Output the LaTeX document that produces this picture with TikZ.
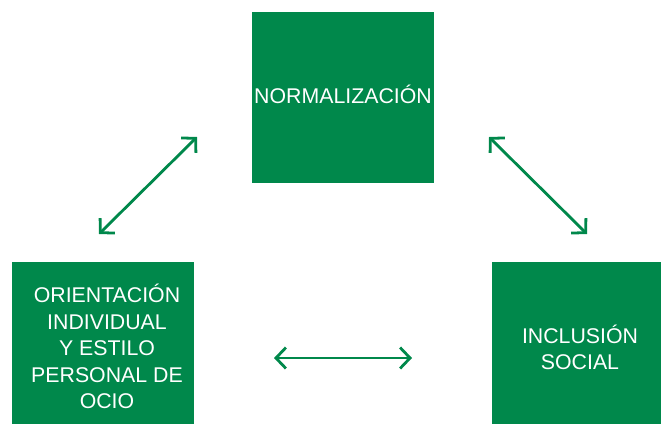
\documentclass[tikz,border=0pt]{standalone}
\usepackage{fontspec}
\setmainfont{Liberation Sans}
\usetikzlibrary{arrows.meta}
\definecolor{verde}{HTML}{00884B}
\tikzset{
  box/.style={fill=verde, draw=none, minimum width=182bp, minimum height=171bp, inner sep=0pt},
  boxtext/.style={text=white, align=center, inner sep=0pt, font=\fontsize{21.3bp}{26.5bp}\selectfont},
  link/.style={draw=verde, line width=2.8bp,
    {Straight Barb[length=10bp, width=21bp, line width=2.8bp]}-{Straight Barb[length=10bp, width=21bp, line width=2.8bp]}}
}
\begin{document}
\begin{tikzpicture}[x=1bp, y=-1bp]
  \useasboundingbox (0,0) rectangle (661,423);
  \clip (0,0) rectangle (661,423);
  \fill[white] (0,0) rectangle (661,423);
  \node[box, label={[boxtext, yshift=3bp]center:NORMALIZACIÓN}] (norm) at (343,97.5) {};
  \node[box, label={[boxtext, xshift=4bp, yshift=1bp]center:{ORIENTACIÓN\\INDIVIDUAL\\Y ESTILO\\PERSONAL DE\\OCIO}}] (orient) at (103,347.5) {};
  \node[box, label={[boxtext, xshift=-3bp]center:{INCLUSIÓN\\SOCIAL}}] (incl) at (583,347.5) {};
  \coordinate (a1) at (99,234);
  \coordinate (a2) at (197,137);
  \coordinate (b1) at (489,137);
  \coordinate (b2) at (587,234);
  \coordinate (c1) at (274,358);
  \coordinate (c2) at (412,358);
  \draw[link] (a1) -- (a2);
  \draw[link] (b1) -- (b2);
  \draw[link] (c1) -- (c2);
\end{tikzpicture}
\end{document}
